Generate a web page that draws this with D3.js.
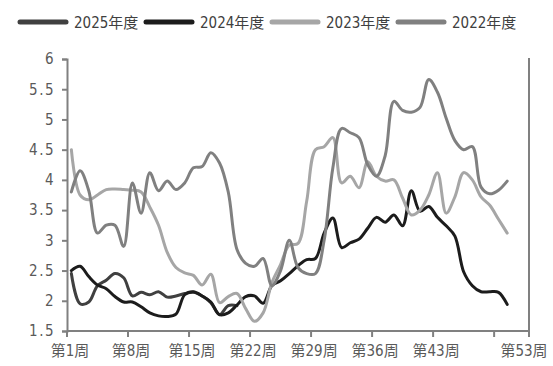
<!DOCTYPE html>
<html>
<head>
<meta charset="utf-8">
<script src="https://cdn.jsdelivr.net/npm/d3@7"></script>
<style>
  body { margin: 0; background: #fff; }
  svg text { font-family: "DejaVu Sans Condensed", "Liberation Sans Narrow", "Noto Sans CJK SC", sans-serif; }
</style>
</head>
<body>
<svg id="chart"></svg>
<script>
// series names (legend order) and colours
const seriesNames = ["2025年度", "2024年度", "2023年度", "2022年度"];
const seriesColors = ["#404040", "#1c1c1c", "#a6a6a6", "#808080"];

// weekly values, week 1 onward
const values2025 = [2.45, 1.95, 1.98, 2.25, 2.34, 2.45, 2.38, 2.08, 2.14, 2.1,
    2.15, 2.06, 2.08, 2.12, 2.14, 2.08, 1.97, 1.77, 1.92, 1.92];
const values2024 = [2.5, 2.57, 2.4, 2.26, 2.2, 2.07, 1.98, 1.98, 1.9, 1.8,
    1.75, 1.74, 1.78, 2.1, 2.15, 2.08, 1.98, 1.77, 1.8, 1.93,
    2.07, 2.08, 1.96, 2.25, 2.33, 2.45, 2.58, 2.68, 2.7, 3.12,
    3.37, 2.88, 2.96, 3.02, 3.2, 3.38, 3.3, 3.42, 3.24, 3.82,
    3.48, 3.56, 3.38, 3.24, 3.07, 2.48, 2.25, 2.15, 2.15, 2.14, 1.94];
const values2023 = [4.5, 3.75, 3.67, 3.75, 3.84, 3.85, 3.84, 3.83, 3.8, 3.55,
    3.25, 2.8, 2.55, 2.46, 2.42, 2.26, 2.44, 1.97, 2.07, 2.12,
    1.87, 1.66, 1.8, 2.3, 2.6, 2.92, 2.95, 3.65, 4.5, 4.55,
    4.7, 3.95, 4.06, 3.87, 4.3, 4.06, 3.98, 4.0, 3.7, 3.42,
    3.5, 3.75, 4.12, 3.45, 3.72, 4.12, 4.0, 3.72, 3.58, 3.35, 3.12];
const values2022 = [3.8, 4.15, 3.82, 3.12, 3.25, 3.25, 2.9, 3.95, 3.45, 4.12,
    3.82, 3.98, 3.84, 3.95, 4.2, 4.22, 4.45, 4.28, 3.8, 2.85,
    2.62, 2.57, 2.7, 2.25, 2.5, 3.0, 2.55, 2.45, 2.45, 3.0,
    4.2, 4.85, 4.78, 4.7, 4.25, 4.06, 4.4, 5.3, 5.15, 5.12,
    5.2, 5.66, 5.45, 5.02, 4.65, 4.5, 4.55, 3.88, 3.77, 3.83, 3.98];

// axis ticks
const weekCount = 53;
const xTickWeeks = [1, 8, 15, 22, 29, 36, 43, 50];
const xTickLabels = ["第1周", "第8周", "第15周", "第22周", "第29周", "第36周", "第43周", ""];
const lastLabel = "第53周";
const yTicks = [1.5, 2, 2.5, 3, 3.5, 4, 4.5, 5, 5.5, 6];

const allValues = [values2025, values2024, values2023, values2022];

const width = 553, height = 366;
const margin = { top: 59, right: 24, bottom: 35, left: 67 };

const svg = d3.select("#chart")
    .attr("width", width)
    .attr("height", height);

// week band scale: tick at left edge of a week, point at its centre
const x = d3.scaleBand()
    .domain(d3.range(1, weekCount + 1))
    .range([margin.left, width - margin.right])
    .paddingInner(0).paddingOuter(0);

const y = d3.scaleLinear()
    .domain([1.5, 6])
    .range([height - margin.bottom, margin.top]);

const axisColor = "#808080";
const labelColor = "#5a5a5a";

// y axis
const yAxis = svg.append("g")
    .attr("transform", `translate(${margin.left},0)`)
    .call(d3.axisLeft(y).tickValues(yTicks).tickSize(5).tickPadding(7)
        .tickFormat(d => d3.format(".1~f")(d)));
yAxis.select(".domain").attr("stroke", axisColor).attr("stroke-width", 2);
yAxis.selectAll(".tick line").attr("stroke", axisColor).attr("stroke-width", 2);
yAxis.selectAll(".tick text")
    .attr("fill", labelColor)
    .style("font-size", "15px")
    .style("letter-spacing", "1.5px");

// x axis
const xAxisY = y(1.5);
const xg = svg.append("g").attr("transform", `translate(0,${xAxisY})`);
xg.append("line")
    .attr("x1", x.range()[0]).attr("x2", x.range()[1])
    .attr("stroke", axisColor).attr("stroke-width", 2);
const tickXs = xTickWeeks.map(w => x(w)).concat([x.range()[1]]);
xg.selectAll("line.tick")
    .data(tickXs)
    .enter().append("line")
    .attr("class", "tick")
    .attr("x1", d => d).attr("x2", d => d)
    .attr("y1", 0).attr("y2", 6)
    .attr("stroke", axisColor).attr("stroke-width", 2);
xg.selectAll("text.lbl")
    .data(xTickWeeks.map((w, i) => ({ x: x(w) + 3, t: xTickLabels[i] }))
        .concat([{ x: x.range()[1] - 5, t: lastLabel }]))
    .enter().append("text")
    .attr("class", "lbl")
    .attr("x", d => d.x)
    .attr("y", 25)
    .attr("text-anchor", "middle")
    .attr("fill", labelColor)
    .style("font-size", "15px")
    .text(d => d.t);

// right border line
svg.append("line")
    .attr("x1", x.range()[1]).attr("x2", x.range()[1])
    .attr("y1", y(6) - 1).attr("y2", xAxisY)
    .attr("stroke", axisColor).attr("stroke-width", 2);

// lines
const line = d3.line()
    .x((d, i) => x(i + 1) + x.bandwidth() / 2)
    .y(d => y(d))
    .curve(d3.curveCatmullRom.alpha(0.5));

const drawOrder = [0, 1, 2, 3];
drawOrder.forEach(k => {
    svg.append("path")
        .datum(allValues[k])
        .attr("d", line)
        .attr("fill", "none")
        .attr("stroke", seriesColors[k])
        .attr("stroke-width", 3)
        .attr("stroke-linejoin", "round")
        .attr("stroke-linecap", "round");
});

// legend
const legendX = [20, 146, 272, 398];
const legend = svg.append("g").attr("transform", "translate(0,22)");
seriesNames.forEach((name, i) => {
    legend.append("line")
        .attr("x1", legendX[i]).attr("x2", legendX[i] + 46)
        .attr("y1", 0).attr("y2", 0)
        .attr("stroke", seriesColors[i])
        .attr("stroke-width", 5)
        .attr("stroke-linecap", "round");
    legend.append("text")
        .attr("x", legendX[i] + 54)
        .attr("y", 6)
        .attr("fill", "#404040")
        .style("font-size", "15px")
        .text(name);
});
</script>
</body>
</html>
